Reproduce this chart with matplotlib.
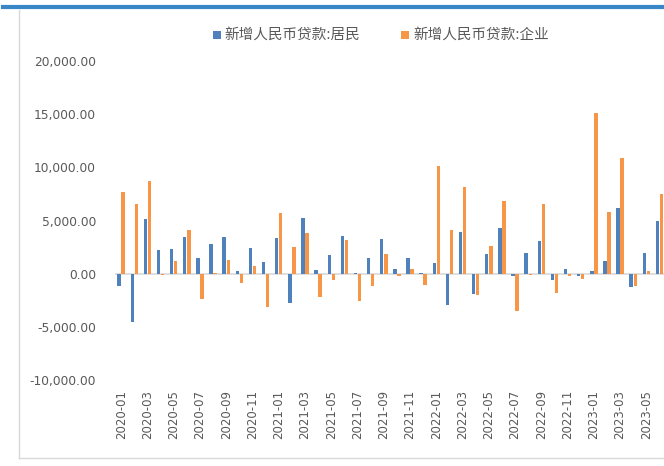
import matplotlib
matplotlib.use('Agg')
import matplotlib.pyplot as plt
from matplotlib.patches import Rectangle
from matplotlib.lines import Line2D
import numpy as np

months = ["2020-01", "2020-02", "2020-03", "2020-04", "2020-05", "2020-06",
          "2020-07", "2020-08", "2020-09", "2020-10", "2020-11", "2020-12",
          "2021-01", "2021-02", "2021-03", "2021-04", "2021-05", "2021-06",
          "2021-07", "2021-08", "2021-09", "2021-10", "2021-11", "2021-12",
          "2022-01", "2022-02", "2022-03", "2022-04", "2022-05", "2022-06",
          "2022-07", "2022-08", "2022-09", "2022-10", "2022-11", "2022-12",
          "2023-01", "2023-02", "2023-03", "2023-04", "2023-05", "2023-06"]

household = [-1170, -4555, 5156, 2246, 2341, 3416, 1455, 2815, 3416, 221, 2436, 1075,
             3321, -2720, 5251, 316, 1740, 3511, 95, 1455, 3226, 411, 1455, 95,
             980, -2973, 3890, -1898, 1835, 4302, -253, 1929, 3036, -569, 474, -190,
             285, 1170, 6136, -1265, 1929, 4966]

enterprise = [7655, 6580, 8730, -100, 1170, 4112, -2404, 100, 1265, -854, 696, -3163,
              5725, 2530, 3796, -2214, -633, 3131, -2594, -1139, 1835, -253, 411, -1044,
              10090, 4080, 8129, -2024, 2625, 6864, -3543, -158, 6579, -1835, -253, -474,
              15119, 5820, 10849, -1139, 285, 7465]

series_names = ["新增人民币贷款:居民", "新增人民币贷款:企业"]
colors = ["#4F81BD", "#F79646"]
yticks = [-10000, -5000, 0, 5000, 10000, 15000, 20000]

W, H = 664, 466
fig = plt.figure(figsize=(W / 100, H / 100), dpi=100)

# axes placement (pixel based)
left_px, right_px = 114.6, 664
step = 13.13
top_px, bot_px = 61, 380
ax = fig.add_axes([left_px / W, (H - bot_px) / H, (right_px - left_px) / W, (bot_px - top_px) / H])

x = np.arange(len(months))
bw = 0.26
off = 0.155
ax.bar(x - off, household, width=bw, color=colors[0], zorder=2)
ax.bar(x + off, enterprise, width=bw, color=colors[1], zorder=2)

ax.set_xlim(-0.5, -0.5 + (right_px - left_px) / step)
ax.set_ylim(-10000, 20000)
ax.axhline(0, color="#D9D9D9", lw=1.2, zorder=1)

for s in ax.spines.values():
    s.set_visible(False)

ax.set_yticks(yticks)
ax.set_yticklabels([f"{v:,.2f}" for v in yticks])
ax.set_xticks(x[::2])
ax.set_xticklabels(months[::2], rotation=90)
ax.tick_params(axis="both", length=0, labelsize=8.5, labelcolor="#595959")
ax.tick_params(axis="x", pad=7)
ax.tick_params(axis="y", labelsize=8.8, pad=13.4)
for t in ax.get_yticklabels() + ax.get_xticklabels():
    t.set_family("DejaVu Sans")

# legend (manual)
cjk = ["Noto Sans CJK SC", "DejaVu Sans"]
leg_items = [(213, 224), (401, 413)]
for (sq_x, tx), name, c in zip(leg_items, series_names, colors):
    fig.patches.append(Rectangle((sq_x / W, (H - 39) / H), 8 / W, 8 / H,
                                 transform=fig.transFigure, color=c, lw=0))
    fig.text(tx / W, (H - 34.5) / H, name, family=cjk, fontsize=10.5,
             color="#595959", va="center", ha="left")

# frame decorations
fig.add_artist(Line2D([3 / W, 1], [(H - 7) / H] * 2, transform=fig.transFigure,
                      color="#3A87C8", lw=3))
fig.add_artist(Line2D([19 / W, 19 / W], [(H - 9.5) / H, (H - 457.5) / H],
                      transform=fig.transFigure, color="#D9D9D9", lw=1))
fig.add_artist(Line2D([19 / W, 1], [(H - 457.5) / H] * 2,
                      transform=fig.transFigure, color="#D9D9D9", lw=1))

fig.savefig("out.png", dpi=100)
